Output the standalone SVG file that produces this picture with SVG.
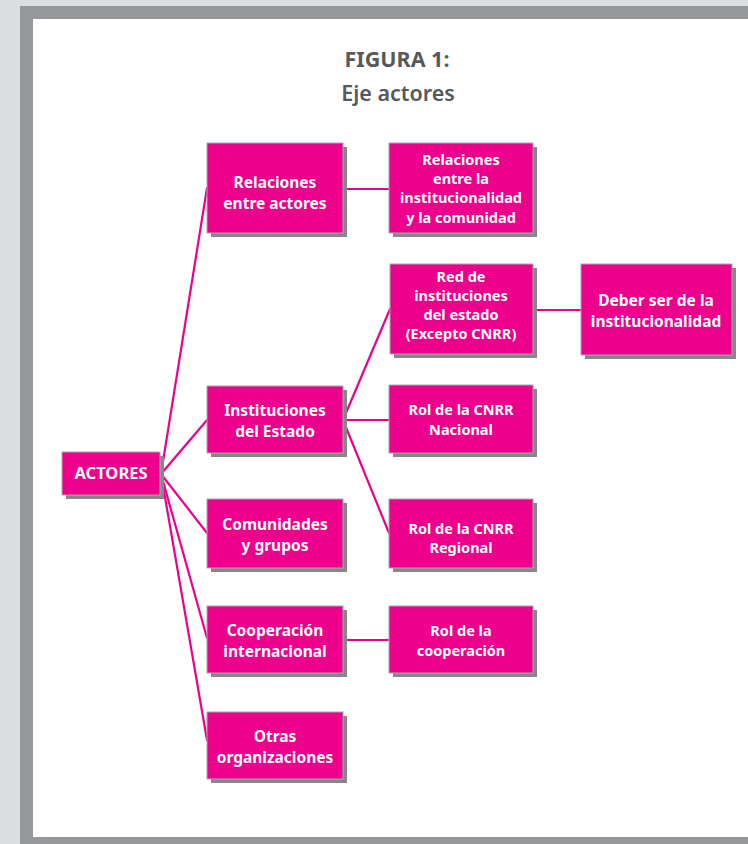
<svg xmlns="http://www.w3.org/2000/svg" width="748" height="844" viewBox="0 0 748 844">
  <defs>
    <style>
      .shadow { fill: #87878b; }
      .box { fill: #ec008c; stroke: #a9a9ad; stroke-width: 1; }
      .lbl { fill: #ffffff; font-family: "Noto Sans", "Open Sans", sans-serif; font-weight: bold; font-size: 15.5px; text-anchor: middle; }
      .sm { font-size: 14.5px; }
      .title { fill: #58595b; font-family: "Noto Sans", "Open Sans", sans-serif; font-weight: bold; font-size: 21.5px; text-anchor: middle; }
      .link { stroke: #ec008c; stroke-width: 2.2; fill: none; stroke-linecap: round; }
    </style>
  </defs>

  <!-- page background and frame -->
  <rect x="0" y="0" width="748" height="844" fill="#dcdde0"/>
  <rect x="20" y="6" width="740" height="850" fill="#97989c"/>
  <rect x="33" y="19" width="720" height="818" fill="#ffffff"/>

  <!-- title -->
  <text class="title" x="397" y="67">FIGURA 1:</text>
  <text class="title" x="398" y="101" style="font-weight:600">Eje actores</text>

  <!-- connectors -->
  <g id="connectors">
    <line class="link" x1="161" y1="474" x2="207" y2="188"/>
    <line class="link" x1="161" y1="474" x2="207" y2="420"/>
    <line class="link" x1="161" y1="474" x2="207" y2="533"/>
    <line class="link" x1="161" y1="474" x2="207" y2="638"/>
    <line class="link" x1="161" y1="474" x2="207" y2="740"/>
    <line class="link" x1="343" y1="189" x2="389" y2="189"/>
    <line class="link" x1="343" y1="420" x2="390" y2="309"/>
    <line class="link" x1="343" y1="420" x2="389" y2="420"/>
    <line class="link" x1="343" y1="420" x2="389" y2="533"/>
    <line class="link" x1="533" y1="310" x2="581" y2="310"/>
    <line class="link" x1="343" y1="640" x2="389" y2="640"/>
  </g>

  <g id="actores">
    <rect class="shadow" x="66" y="456" width="98" height="43"/>
    <rect class="box" x="62" y="452" width="98" height="43"/>
    <text class="lbl" x="111" y="479" style="font-size:16.5px">ACTORES</text>
  </g>

  <g id="relaciones-actores">
    <rect class="shadow" x="211" y="147" width="136" height="90"/>
    <rect class="box" x="207" y="143" width="136" height="90"/>
    <text class="lbl" x="275" y="188">Relaciones</text>
    <text class="lbl" x="275" y="209">entre actores</text>
  </g>

  <g id="relaciones-institucionalidad">
    <rect class="shadow" x="393" y="147" width="144" height="90"/>
    <rect class="box" x="389" y="143" width="144" height="90"/>
    <text class="lbl sm" x="461" y="165">Relaciones</text>
    <text class="lbl sm" x="461" y="184">entre la</text>
    <text class="lbl sm" x="461" y="203">institucionalidad</text>
    <text class="lbl sm" x="461" y="223">y la comunidad</text>
  </g>

  <g id="red-instituciones">
    <rect class="shadow" x="394" y="268" width="143" height="90"/>
    <rect class="box" x="390" y="264" width="143" height="90"/>
    <text class="lbl sm" x="461" y="282">Red de</text>
    <text class="lbl sm" x="461" y="301">instituciones</text>
    <text class="lbl sm" x="461" y="320">del estado</text>
    <text class="lbl sm" x="461" y="339">(Excepto CNRR)</text>
  </g>

  <g id="deber-ser">
    <rect class="shadow" x="585" y="268" width="151" height="91"/>
    <rect class="box" x="581" y="264" width="151" height="91"/>
    <text class="lbl" x="656" y="306">Deber ser de la</text>
    <text class="lbl" x="656" y="327">institucionalidad</text>
  </g>

  <g id="instituciones-estado">
    <rect class="shadow" x="211" y="390" width="136" height="67"/>
    <rect class="box" x="207" y="386" width="136" height="67"/>
    <text class="lbl" x="275" y="416">Instituciones</text>
    <text class="lbl" x="275" y="437">del Estado</text>
  </g>

  <g id="cnrr-nacional">
    <rect class="shadow" x="393" y="389" width="144" height="68"/>
    <rect class="box" x="389" y="385" width="144" height="68"/>
    <text class="lbl sm" x="461" y="415">Rol de la CNRR</text>
    <text class="lbl sm" x="461" y="435">Nacional</text>
  </g>

  <g id="comunidades">
    <rect class="shadow" x="211" y="503" width="136" height="69"/>
    <rect class="box" x="207" y="499" width="136" height="69"/>
    <text class="lbl" x="275" y="530">Comunidades</text>
    <text class="lbl" x="275" y="551">y grupos</text>
  </g>

  <g id="cnrr-regional">
    <rect class="shadow" x="393" y="503" width="144" height="69"/>
    <rect class="box" x="389" y="499" width="144" height="69"/>
    <text class="lbl sm" x="461" y="534">Rol de la CNRR</text>
    <text class="lbl sm" x="461" y="553">Regional</text>
  </g>

  <g id="cooperacion-internacional">
    <rect class="shadow" x="211" y="610" width="136" height="67"/>
    <rect class="box" x="207" y="606" width="136" height="67"/>
    <text class="lbl" x="275" y="636">Cooperación</text>
    <text class="lbl" x="275" y="657">internacional</text>
  </g>

  <g id="rol-cooperacion">
    <rect class="shadow" x="393" y="610" width="144" height="67"/>
    <rect class="box" x="389" y="606" width="144" height="67"/>
    <text class="lbl sm" x="461" y="636">Rol de la</text>
    <text class="lbl sm" x="461" y="656">cooperación</text>
  </g>

  <g id="otras-organizaciones">
    <rect class="shadow" x="211" y="716" width="136" height="67"/>
    <rect class="box" x="207" y="712" width="136" height="67"/>
    <text class="lbl" x="275" y="742">Otras</text>
    <text class="lbl" x="275" y="763">organizaciones</text>
  </g>
</svg>
